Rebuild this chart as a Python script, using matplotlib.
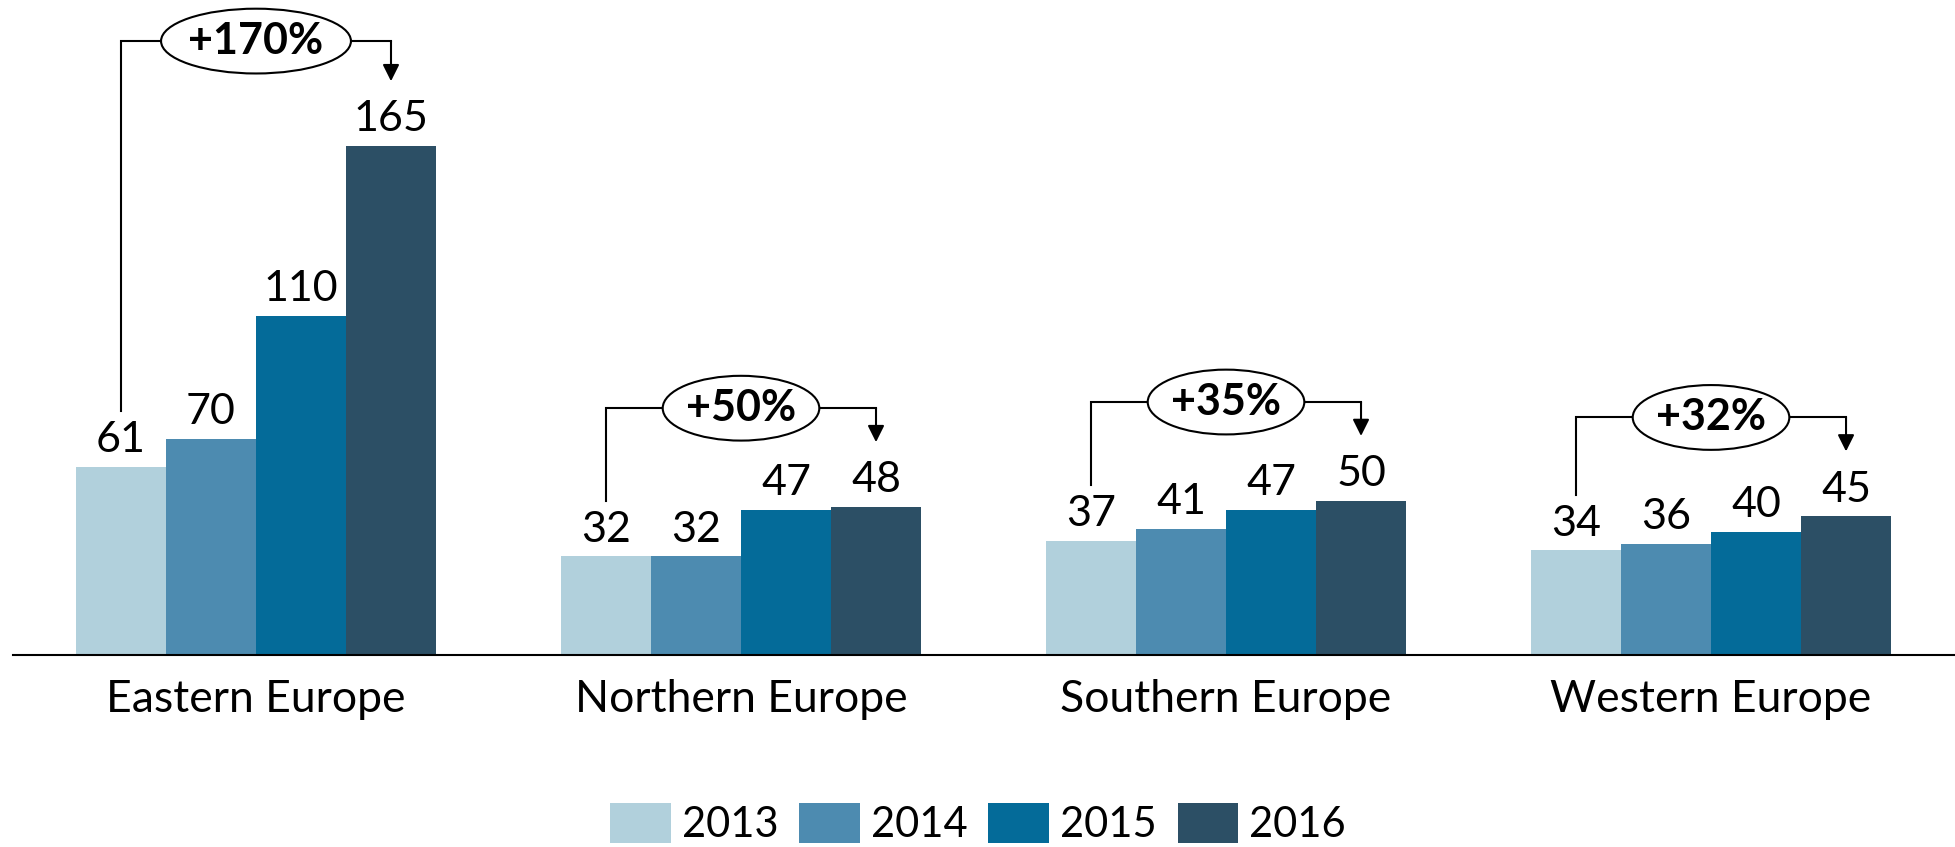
import matplotlib.pyplot as plt
from matplotlib.patches import Ellipse
from matplotlib.patches import Patch

# Values per region and year
regions = ["Eastern Europe", "Northern Europe", "Southern Europe", "Western Europe"]
years = ["2013", "2014", "2015", "2016"]
v2013 = [61, 32, 37, 34]
v2014 = [70, 32, 41, 36]
v2015 = [110, 47, 47, 40]
v2016 = [165, 48, 50, 45]
growth = ["+170%", "+50%", "+35%", "+32%"]

colors = ["#b1d0dc", "#4d8bb0", "#046b99", "#2c4f65"]
plt.rcParams['font.family'] = ['Lato', 'DejaVu Sans']

W, H = 1955, 847
fig = plt.figure(figsize=(W / 100, H / 100), dpi=100)
ax = fig.add_axes([13 / W, 192 / H, 1942 / W, 655 / H])

spacing = 5.389
series = [v2013, v2014, v2015, v2016]
offsets = [-1.5, -0.5, 0.5, 1.5]

for s, vals in enumerate(series):
    xs = [i * spacing + offsets[s] for i in range(len(regions))]
    ax.bar(xs, vals, width=1.0, color=colors[s], linewidth=0, zorder=2)
    for x, v in zip(xs, vals):
        ax.annotate(str(v), (x, v), xytext=(0, 10.5), textcoords="offset points",
                    ha="center", va="baseline", fontsize=31, color="black")

# region labels under the baseline
for i, r in enumerate(regions):
    ax.annotate(r, (i * spacing, 0), xytext=(0, -41), textcoords="offset points",
                ha="center", va="baseline", fontsize=32, color="black",
                annotation_clip=False)

# growth brackets from first to last year
for i, g in enumerate(growth):
    xc = i * spacing
    x0, x1 = xc - 1.5, xc + 1.5
    top = max(v2013[i], v2016[i]) + 32
    if i == 0:
        top = v2016[i] + 34
    y_start = v2013[i] + 18
    y_tip = v2016[i] + 21
    ax.plot([x0, x0, x1], [y_start, top, top], color="black", lw=1.5,
            solid_joinstyle="miter", zorder=3)
    ax.annotate("", xy=(x1, y_tip), xytext=(x1, top),
                arrowprops=dict(arrowstyle="-|>,head_length=0.5,head_width=0.25",
                                mutation_scale=20, color="black", lw=1.5,
                                shrinkA=0, shrinkB=0), zorder=3)
    ew = 0.37 * len(g) + 0.26
    ax.add_patch(Ellipse((xc, top), ew, 21, facecolor="white",
                         edgecolor="black", lw=1.5, zorder=4))
    ax.text(xc, top, g, ha="center", va="center", fontsize=31,
            fontweight="bold", zorder=5)

ax.set_xlim(-2.7, -2.7 + 1942 / 90)
ax.set_ylim(0, 655 / 3.085)
for side in ["top", "right", "left"]:
    ax.spines[side].set_visible(False)
ax.spines["bottom"].set_linewidth(1.5)
ax.set_xticks([])
ax.set_yticks([])

handles = [Patch(facecolor=c, edgecolor="none") for c in colors]
fig.legend(handles, years, loc="center", bbox_to_anchor=(978 / W, 1 - 823.5 / H),
           ncol=4, frameon=False, fontsize=30, handlelength=1.45,
           handleheight=1.1, handletextpad=0.27, columnspacing=0.5,
           borderaxespad=0, borderpad=0)

fig.savefig("out.png", dpi=100)
